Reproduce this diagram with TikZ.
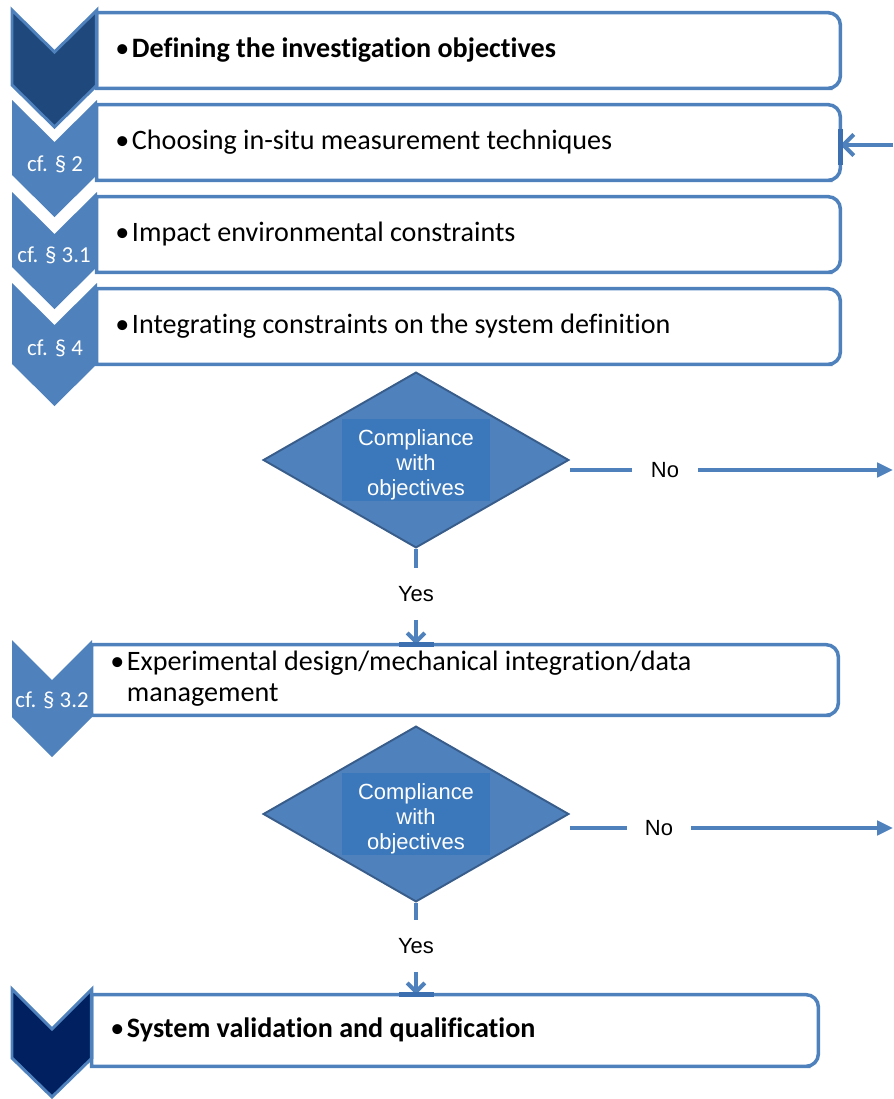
\documentclass[tikz,border=0pt]{standalone}
\usepackage{fontspec}
\setmainfont{Carlito}[Ligatures=NoCommon]
\newfontfamily\arialfont{Liberation Sans}
\usetikzlibrary{arrows.meta, shapes.geometric, fit, calc}

\definecolor{accent}{HTML}{4F81BD}
\definecolor{darkstep}{HTML}{1F497D}
\definecolor{navystep}{HTML}{002060}
\definecolor{diamondline}{HTML}{385D8A}
\definecolor{labelfill}{HTML}{3B77BB}
\definecolor{joint}{HTML}{3C6FB0}

\tikzset{
  chev/.style={fill=accent},
  chevdark/.style={fill=#1, draw=accent, line width=1.7pt, line join=miter},
  stepbox/.style={inner sep=0pt},
  boxline/.style={draw=accent, line width=2pt},
  steptext/.style={anchor=west, inner sep=0pt, align=left, font=\fontsize{16}{17.5}\selectfont},
  cfref/.style={inner sep=0pt, text=white, font=\fontsize{13}{15}\selectfont},
  decision/.style={diamond, fill=accent, draw=diamondline, line width=1.1pt,
    minimum width=174pt, minimum height=100pt, inner sep=0pt},
  decisionbox/.style={fill=labelfill, minimum width=84.5pt, minimum height=47pt, inner sep=0pt},
  decisiontext/.style={inner sep=0pt, text=white, align=center,
    font=\arialfont\fontsize{12.5}{14.2}\selectfont},
  answer/.style={inner sep=0pt, font=\arialfont\fontsize{12.5}{14}\selectfont},
  flow/.style={draw=accent, line width=2.3pt},
  joint/.style={draw=joint, line width=2.6pt},
}

% box outline, rounded on the right side only
\newcommand{\stepoutline}[1]{%
  \draw[boxline] (#1.north west) -- ($(#1.north east)+(-20,0)$) [rounded corners=7pt]
    -- (#1.north east) -- (#1.south east) -- ($(#1.south east)+(-20,0)$) [sharp corners]
    -- (#1.south west) -- cycle;}
\newcommand{\bul}{\textbullet\hspace{1.5pt}}

\begin{document}
\begin{tikzpicture}[x=0.02cm, y=-0.02cm]
\useasboundingbox (0,0) rectangle (893,1099);

% chevrons
\draw[chevdark=darkstep] (12,10) -- (54.5,52) -- (97,10) -- (97,85) -- (54.5,127) -- (12,85) -- cycle;
\fill[chev] (12,100) -- (54.5,142) -- (97,100) -- (97,175) -- (54.5,217) -- (12,175) -- cycle;
\fill[chev] (12,192) -- (54.5,234) -- (97,192) -- (97,267) -- (54.5,309) -- (12,267) -- cycle;
\fill[chev] (12,283) -- (54.5,325) -- (97,283) -- (97,364) -- (54.5,406) -- (12,364) -- cycle;
\fill[chev] (12,640) -- (52,680) -- (92,640) -- (92,717) -- (52,757) -- (12,717) -- cycle;
\draw[chevdark=navystep] (12,989) -- (52,1029) -- (92,989) -- (92,1058) -- (52,1097) -- (12,1058) -- cycle;

\node[cfref] (r2) at (55,164) {cf. § 2};
\node[cfref] (r3) at (54,255) {cf. § 3.1};
\node[cfref] (r4) at (55,348) {cf. § 4};
\node[cfref] (r5) at (52,700) {cf. § 3.2};

% boxes
\node[stepbox, fit={(97,13) (840,88)}] (b1) {};
\node[stepbox, fit={(97,105) (840,180)}] (b2) {};
\node[stepbox, fit={(97,197) (840,272)}] (b3) {};
\node[stepbox, fit={(97,289) (840,364)}] (b4) {};
\node[stepbox, fit={(92,645) (838,715)}] (b5) {};
\node[stepbox, fit={(92,995) (818,1066)}] (b6) {};
\stepoutline{b1}
\stepoutline{b2}
\stepoutline{b3}
\stepoutline{b4}
\stepoutline{b5}
\stepoutline{b6}

\node[steptext] (t1) at (115,50) {\bul\textbf{Defining the investigation objectives}};
\node[steptext] (t2) at (115,142) {\bul Choosing in-situ measurement techniques};
\node[steptext] (t3) at (115,234) {\bul Impact environmental constraints};
\node[steptext] (t4) at (115,326) {\bul Integrating constraints on the system definition};
\node[steptext] (t5) at (110,679) {\bul Experimental design/mechanical integration/data\\
  \hphantom{\bul}management};
\node[steptext] (t6) at (110,1030) {\bul\textbf{System validation and qualification}};

% decisions
\node[decision] (d1) at (416,460) {};
\node[decisionbox] (q1) at (d1) {};
\node[decisiontext] at ([yshift=-2.5pt]q1) {Compliance\\with\\objectives};
\node[decision] (d2) at (416,814) {};
\node[decisionbox] (q2) at (d2) {};
\node[decisiontext] at ([yshift=-2.5pt]q2) {Compliance\\with\\objectives};

\node[answer, minimum width=37pt] (no1) at (665,470) {No};
\node[answer, minimum width=36pt] (no2) at (659,828) {No};
\node[answer, minimum height=29pt] (yes1) at (416,594) {Yes};
\node[answer, minimum height=29pt] (yes2) at (416,946) {Yes};
\coordinate (out1) at (893,470);
\coordinate (out2) at (893,828);
\coordinate (in2) at (893,145);

% connectors
\draw[flow] (d1.east |- out1) -- (no1);
\draw[flow, -{Triangle[length=9pt, width=8pt]}] (no1) -- (out1);
\draw[flow] (d2.east |- out2) -- (no2);
\draw[flow, -{Triangle[length=9pt, width=8pt]}] (no2) -- (out2);
\draw[flow] (d1.south) -- (yes1.north);
\draw[flow, -{Straight Barb[length=5pt, width=10pt]}] (yes1.south) -- (yes1 |- b5.north);
\draw[flow] (d2.south) -- (yes2.north);
\draw[flow, -{Straight Barb[length=5pt, width=10pt]}] (yes2.south) -- (yes2 |- b6.north);
\draw[flow, -{Straight Barb[length=6pt, width=12pt]}] (in2) -- (b2.east |- in2);

\draw[joint] ($(b2.east)+(0,-14)$) -- ($(b2.east)+(0,22)$);
\draw[joint] ($(yes1 |- b5.north)+(-17,0)$) -- ($(yes1 |- b5.north)+(18,0)$);
\draw[joint] ($(yes2 |- b6.north)+(-17,0)$) -- ($(yes2 |- b6.north)+(18,0)$);
\end{tikzpicture}
\end{document}
